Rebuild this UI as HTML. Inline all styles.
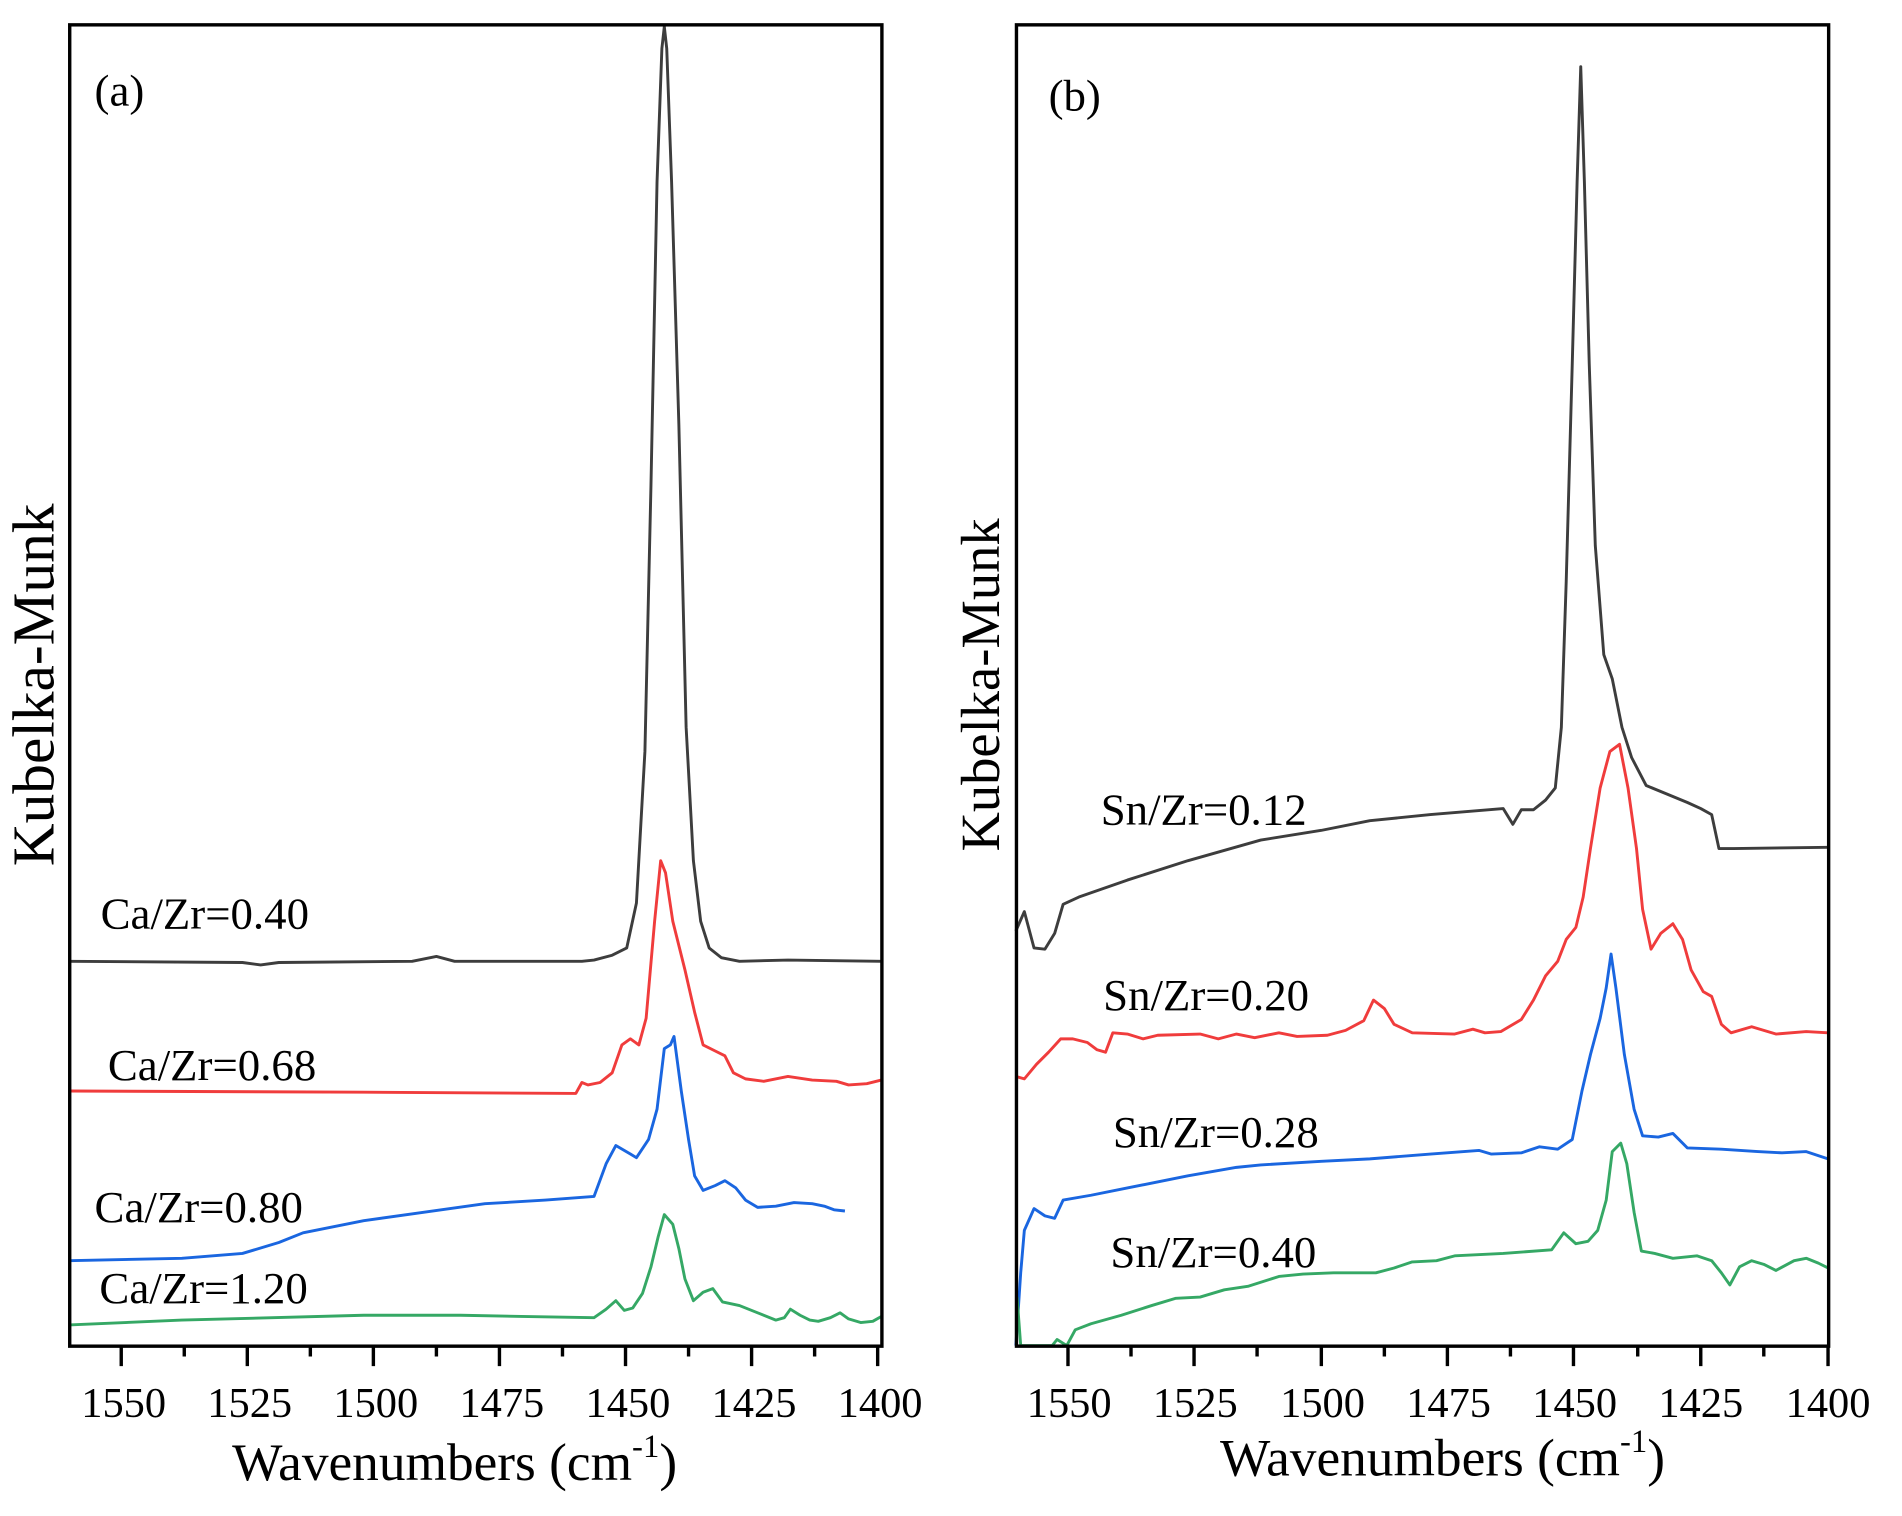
<!DOCTYPE html>
<html><head><meta charset="utf-8"><style>html,body{margin:0;padding:0;background:#fff}svg{display:block}</style></head>
<body>
<svg width="1902" height="1516" viewBox="0 0 1569 1250.6" xmlns="http://www.w3.org/2000/svg" font-family="'Liberation Serif', serif">
<g fill="none" stroke-width="2.4" stroke-linejoin="round">
<polyline stroke="#3d3d3d" points="57,793 200,794 215,796 230,794 340,793 360,789 375,793 480,793 490,792 505,788 517,782 525,745 532,620 537,400 542,150 546,40 548,22 550,40 554,150 560,350 566,600 572,710 578,760 585,782 595,790 610,793 650,792 727,793"/>
<polyline stroke="#f03c3c" points="57,900 300,901 475,902 480,893 485,895 495,893 505,885 513,862 520,857 527,862 533,840 540,760 545,710 549,720 555,760 565,800 573,835 580,862 590,867 598,871 605,885 615,890 630,892 650,888 670,891 690,892 700,895 715,894 727,891"/>
<polyline stroke="#1a66e0" points="57,1040 150,1038 200,1034 230,1025 250,1017 300,1007 350,1000 400,993 450,990 490,987 500,960 508,945 520,952 525,955 535,940 542,915 548,865 553,862 556,855 562,900 568,940 573,970 580,982 590,978 598,974 607,980 615,990 625,996 640,995 655,992 670,993 680,995 688,998 697,999"/>
<polyline stroke="#35a865" points="57,1093 150,1089 300,1085 380,1085 430,1086 490,1087 500,1080 508,1073 515,1081 522,1079 530,1067 537,1045 543,1020 548,1002 555,1010 560,1030 565,1055 572,1073 580,1066 588,1063 596,1074 610,1077 625,1083 640,1089 647,1087 652,1080 660,1085 668,1089 675,1090 685,1087 693,1083 700,1088 710,1091 720,1090 727,1086"/>
<polyline stroke="#3d3d3d" points="838,768 845,752 853,782 862,783 870,770 877,746 890,740 930,726 980,710 1040,693 1090,685 1130,677 1180,672 1240,667 1248,680 1255,668 1265,668 1275,660 1283,650 1288,600 1292,480 1297,300 1301,150 1304,55 1307,150 1311,300 1316,450 1323,540 1330,560 1338,600 1346,625 1358,648 1375,655 1392,662 1403,667 1412,672 1418,700 1430,700 1508,699"/>
<polyline stroke="#f03c3c" points="838,888 845,890 855,878 865,868 875,857 885,857 897,860 905,866 912,868 918,852 930,853 943,857 955,854 990,853 1005,857 1020,853 1035,856 1055,852 1070,855 1095,854 1110,850 1125,842 1133,825 1142,832 1150,845 1165,852 1200,853 1215,849 1225,852 1238,851 1255,841 1265,825 1275,805 1285,793 1292,775 1300,765 1306,740 1312,700 1320,650 1328,620 1336,614 1343,650 1350,700 1355,750 1362,783 1370,770 1380,762 1388,775 1395,800 1405,818 1412,822 1420,845 1428,852 1445,847 1465,853 1490,851 1508,852"/>
<polyline stroke="#1a66e0" points="838,1110 842,1050 845,1015 853,997 862,1003 870,1005 877,990 900,986 930,980 980,970 1020,963 1040,961 1090,958 1130,956 1180,952 1220,949 1230,952 1255,951 1270,946 1285,948 1297,940 1305,900 1312,870 1320,840 1325,815 1329,787 1333,815 1340,870 1348,915 1355,937 1368,938 1380,935 1392,947 1420,948 1450,950 1470,951 1490,950 1508,956"/>
<polyline stroke="#35a865" points="839,1070 842,1110 868,1110 872,1105 880,1110 887,1097 900,1092 925,1085 950,1077 970,1071 990,1070 1010,1064 1030,1061 1055,1053 1075,1051 1100,1050 1135,1050 1150,1046 1165,1041 1185,1040 1200,1036 1240,1034 1280,1031 1290,1017 1300,1026 1310,1024 1318,1015 1325,990 1330,950 1337,943 1342,960 1348,1000 1354,1032 1365,1034 1380,1038 1400,1036 1412,1040 1420,1050 1427,1060 1435,1045 1445,1040 1455,1043 1465,1048 1480,1040 1490,1038 1500,1042 1508,1046"/>
</g>
<g fill="none" stroke="#000" stroke-width="2.8">
<rect x="57.5" y="20.5" width="670" height="1090"/>
<rect x="838.5" y="20.5" width="670" height="1090"/>
<path d="M100,1110v17M152,1110v9M204,1110v17M256,1110v9M308,1110v17M360,1110v9M412,1110v17M464,1110v9M516,1110v17M568,1110v9M620,1110v17M672,1110v9M724,1110v17"/>
<path d="M881,1110v17M933,1110v9M985,1110v17M1037,1110v9M1090,1110v17M1142,1110v9M1194,1110v17M1246,1110v9M1298,1110v17M1351,1110v9M1403,1110v17M1455,1110v9M1508,1110v17"/>
</g>
<g font-size="35" text-anchor="middle" fill="#000">
<text x="102" y="1169">1550</text><text x="206" y="1169">1525</text><text x="310" y="1169">1500</text><text x="414" y="1169">1475</text><text x="518" y="1169">1450</text><text x="622" y="1169">1425</text><text x="726" y="1169">1400</text>
<text x="882" y="1169">1550</text><text x="986" y="1169">1525</text><text x="1091" y="1169">1500</text><text x="1195" y="1169">1475</text><text x="1299" y="1169">1450</text><text x="1403" y="1169">1425</text><text x="1508" y="1169">1400</text>
</g>
<g font-size="44" text-anchor="middle" fill="#000">
<text x="375" y="1221">Wavenumbers (cm<tspan font-size="27" dy="-19">-1</tspan><tspan dy="19">)</tspan></text>
<text x="1190" y="1217">Wavenumbers (cm<tspan font-size="27" dy="-19">-1</tspan><tspan dy="19">)</tspan></text>
<text font-size="49" transform="translate(44,565) rotate(-90)">Kubelka-Munk</text>
<text font-size="45" transform="translate(824,565) rotate(-90)">Kubelka-Munk</text>
</g>
<g font-size="37" fill="#000">
<text x="78" y="87">(a)</text><text x="865" y="91">(b)</text>
<text x="83" y="766">Ca/Zr=0.40</text>
<text x="89" y="891">Ca/Zr=0.68</text>
<text x="78" y="1008">Ca/Zr=0.80</text>
<text x="82" y="1075">Ca/Zr=1.20</text>
<text x="908" y="680">Sn/Zr=0.12</text>
<text x="910" y="833">Sn/Zr=0.20</text>
<text x="918" y="946">Sn/Zr=0.28</text>
<text x="916" y="1045">Sn/Zr=0.40</text>
</g>
</svg>
</body></html>
